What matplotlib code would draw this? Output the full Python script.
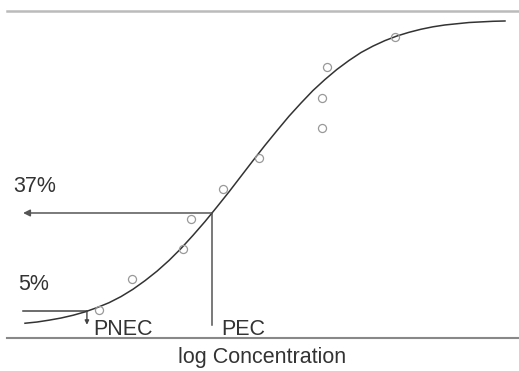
import matplotlib
matplotlib.use("Agg")
import matplotlib.pyplot as plt

# fitted dose-response curve
curve_logc = [0.0, 0.25, 0.5, 0.75, 1.0, 1.25, 1.5, 1.75, 2.0, 2.25, 2.5,
              2.75, 3.0, 3.25, 3.5, 3.75, 4.0, 4.25, 4.5, 4.75, 5.0,
              5.25, 5.5, 5.75, 6.0, 6.25, 6.5, 6.75, 7.0, 7.25, 7.5,
              7.75, 8.0, 8.25, 8.5, 8.75, 9.0, 9.25, 9.5, 9.75, 10.0]
curve_effect = [1.0, 1.4, 2.0, 2.7, 3.6, 4.7, 6.1, 7.7, 9.7, 12.1, 14.9,
                18.0, 21.5, 25.4, 29.7, 34.2, 39.0, 43.9, 49.0, 54.1, 59.1,
                63.9, 68.6, 72.9, 77.0, 80.6, 83.9, 86.8, 89.4, 91.5, 93.3,
                94.8, 96.0, 97.0, 97.8, 98.4, 98.8, 99.2, 99.4, 99.6, 99.7]

# observed points
obs_logc = [1.54, 2.23, 3.29, 3.46, 4.13, 4.88, 6.29, 6.19, 6.19, 7.71]
obs_effect = [5.3, 15.4, 25.2, 35.0, 44.8, 55.0, 84.7, 74.5, 64.7, 94.5]

# PNEC / PEC markers
pnec_x, pnec_effect = 1.29, 5
pec_x, pec_effect = 3.896, 37
arrow_left = -0.04
floor_y = 0.5

fig = plt.figure(figsize=(5.19, 3.71), dpi=100)
ax = fig.add_axes([7 / 519, 33 / 371, 512 / 519, 327 / 371])
ax.set_xlim(-0.375, 10.292)
ax.set_ylim(-3.82, 102.96)
ax.set_xticks([])
ax.set_yticks([])
ax.spines['left'].set_visible(False)
ax.spines['right'].set_visible(False)
ax.spines['top'].set_color('#bbbbbb')
ax.spines['top'].set_linewidth(1.8)
ax.spines['bottom'].set_color('#888888')
ax.spines['bottom'].set_linewidth(1.5)

ax.plot(curve_logc, curve_effect, color='#333333', lw=1.1, zorder=3)
ax.plot(obs_logc, obs_effect, 'o', mfc='none', mec='#999999', ms=5.8, mew=0.9, zorder=4)

# 5% / PNEC
ax.plot([arrow_left, pnec_x], [pnec_effect, pnec_effect], color='#444444', lw=1.1)
ax.annotate('', xy=(pnec_x, floor_y), xytext=(pnec_x, pnec_effect),
            arrowprops=dict(arrowstyle='-|>', color='#444444', lw=1.0,
                            mutation_scale=6, shrinkA=0, shrinkB=0))

# 37% / PEC
ax.annotate('', xy=(arrow_left, pec_effect), xytext=(pec_x, pec_effect),
            arrowprops=dict(arrowstyle='-|>', color='#555555', lw=1.1,
                            mutation_scale=10, shrinkA=0, shrinkB=0))
ax.plot([pec_x, pec_x], [floor_y, pec_effect], color='#555555', lw=1.1)

font = dict(family=['Liberation Sans', 'DejaVu Sans'], fontsize=15.5, color='#333333')
ax.text(-0.25, 43.85, '37%', va='baseline', ha='left', **font)
ax.text(-0.146, 11.85, '5%', va='baseline', ha='left', **font)
ax.text(1.417, -3.0, 'PNEC', va='baseline', ha='left', clip_on=False, **font)
ax.text(4.083, -3.0, 'PEC', va='baseline', ha='left', clip_on=False, **font)
ax.text(4.94, -11.98, 'log Concentration', va='baseline', ha='center', clip_on=False, **font)

fig.savefig('out.png', dpi=100)
